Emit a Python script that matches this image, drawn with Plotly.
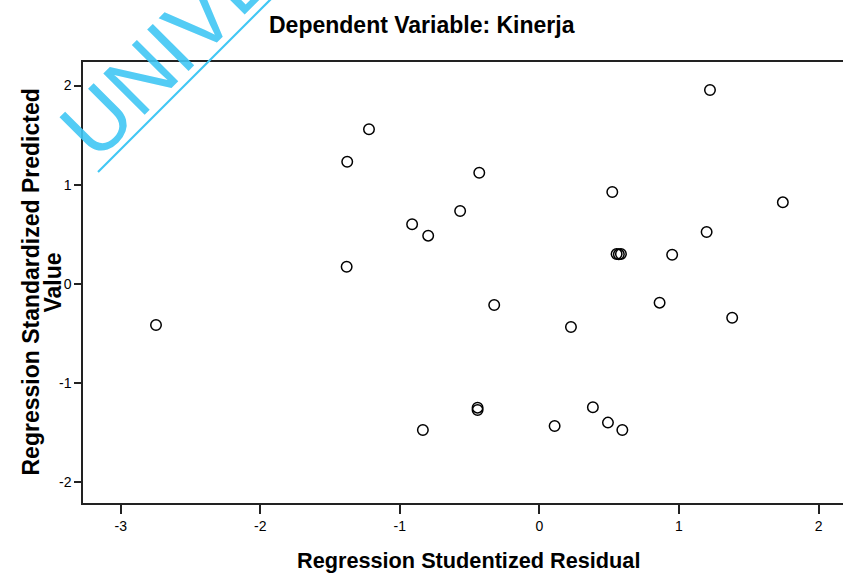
import plotly.graph_objects as go

# Regression diagnostics: studentized residuals vs standardized predicted values
studentized_residual = [
    1.222, -1.221, -1.377, -0.431, 0.522, 1.744, -0.568, -0.912, -0.797,
    1.198, 0.553, 0.569, 0.584, 0.951, -1.381, -0.324, 0.861, -2.747,
    0.226, 1.381, -0.443, -0.443, 0.383, 0.491, 0.594, 0.109, -0.835,
]
standardized_predicted = [
    1.955, 1.559, 1.232, 1.121, 0.927, 0.823, 0.736, 0.602, 0.487,
    0.524, 0.302, 0.299, 0.302, 0.295, 0.174, -0.212, -0.188, -0.413,
    -0.433, -0.340, -1.246, -1.270, -1.242, -1.397, -1.471, -1.431, -1.471,
]
x_ticks = [-3, -2, -1, 0, 1, 2]
y_ticks = [-2, -1, 0, 1, 2]

FONT = "Arial, Liberation Sans, sans-serif"
WM_COLOR = "#41C7F4"

fig = go.Figure()
fig.add_trace(go.Scatter(
    x=studentized_residual,
    y=standardized_predicted,
    mode="markers",
    marker=dict(symbol="circle-open", size=10.5, color="black",
                line=dict(width=1.5, color="black")),
    showlegend=False,
    hoverinfo="x+y",
))

fig.update_layout(
    width=843, height=574,
    margin=dict(l=83, r=0, t=62, b=71),
    paper_bgcolor="white", plot_bgcolor="white",
    font=dict(family=FONT, color="black"),
    xaxis=dict(
        range=[-3.27, 2.175], tickvals=x_ticks, ticktext=[str(v) for v in x_ticks],
        showgrid=False, zeroline=False,
        showline=True, mirror=True, linecolor="#222222", linewidth=1.5,
        ticks="outside", ticklen=9, tickwidth=1.5, tickcolor="#222222",
        tickfont=dict(size=14, family=FONT, color="black"),
    ),
    yaxis=dict(
        range=[-2.207, 2.237], tickvals=y_ticks, ticktext=[str(v) for v in y_ticks],
        showgrid=False, zeroline=False,
        showline=True, mirror=False, linecolor="#222222", linewidth=1.5,
        ticks="outside", ticklen=7, tickwidth=1.5, tickcolor="#222222",
        tickfont=dict(size=14, family=FONT, color="black"),
    ),
)

# Chart title
fig.add_annotation(
    text="<b>Dependent Variable: Kinerja</b>",
    xref="paper", yref="paper", x=(422 - 83) / 760, y=(503 - 25) / 441,
    xanchor="center", yanchor="middle", showarrow=False,
    font=dict(size=23, family=FONT, color="black"),
)
# X axis title
fig.add_annotation(
    text="<b>Regression Studentized Residual</b>",
    xref="paper", yref="paper", x=(468 - 83) / 760, y=(503 - 560) / 441,
    xanchor="center", yanchor="middle", showarrow=False,
    font=dict(size=21.7, family=FONT, color="black"),
)
# Y axis title, two lines
for txt, px in [("Regression Standardized Predicted", 30), ("Value", 52)]:
    fig.add_annotation(
        text=f"<b>{txt}</b>", textangle=-90,
        xref="paper", yref="paper", x=(px - 83) / 760, y=0.5,
        xanchor="center", yanchor="middle", showarrow=False,
        font=dict(size=23, family=FONT, color="black"),
    )

# Watermark text with underline
fig.add_annotation(
    text="UNIVERSITAS", textangle=-45,
    xref="paper", yref="paper", x=(273 - 83) / 760, y=(503 + 56) / 441,
    xanchor="center", yanchor="middle", showarrow=False,
    font=dict(size=85, family=FONT, color=WM_COLOR), opacity=0.9,
)
fig.add_shape(
    type="line", xref="paper", yref="paper",
    x0=(98 - 83) / 760, y0=(503 - 172) / 441,
    x1=(320 - 83) / 760, y1=(503 + 50) / 441,
    line=dict(color=WM_COLOR, width=2.2),
)

fig.write_html("out.html")
